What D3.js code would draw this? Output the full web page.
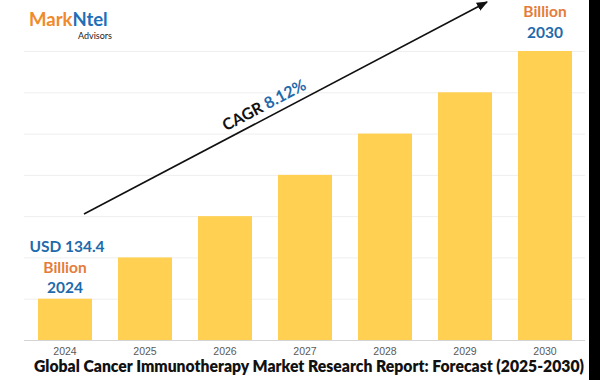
<!DOCTYPE html>
<html>
<head>
<meta charset="utf-8">
<script src="https://cdn.jsdelivr.net/npm/d3@7"></script>
<style>
  html, body { margin: 0; padding: 0; background: #fff; }
  svg { display: block; }
</style>
</head>
<body>
<svg id="chart" width="600" height="380"></svg>
<script>
// ---- data ----
const years = ["2024", "2025", "2026", "2027", "2028", "2029", "2030"];
const barHeights = [1, 2, 3, 4, 5, 6, 7];           // relative bar heights (gridline units)
const gridTicks = [0, 1, 2, 3, 4, 5, 6, 7];
const startLabel = ["USD 134.4", "Billion", "2024"];
const endLabel = ["Billion", "2030"];
const cagrLabel = ["CAGR ", "8.12%"];
const title = "Global Cancer Immunotherapy Market Research Report: Forecast (2025-2030)";

const svg = d3.select("#chart");
const W = 600, H = 380;
const font = "Lato, 'Open Sans', sans-serif";
const blue = "#1f6aab", orange = "#e47d3c", barColor = "#ffd052";

const x = d3.scaleBand().domain(years).range([25, 585]).paddingInner(0.325).paddingOuter(0.1625);
const y = d3.scaleLinear().domain([0, 7]).range([340, 51]);

// gridlines
svg.append("g").selectAll("line").data(gridTicks).join("line")
  .attr("x1", 24).attr("x2", 585)
  .attr("y1", d => y(d) + 0.5).attr("y2", d => y(d) + 0.5)
  .attr("stroke", d => d === 0 ? "#d4d4d4" : "#eeeeee").attr("stroke-width", 1);

// bars
svg.append("g").selectAll("rect").data(years).join("rect")
  .attr("x", d => x(d))
  .attr("width", x.bandwidth())
  .attr("y", (d, i) => y(barHeights[i]))
  .attr("height", (d, i) => y(0) - y(barHeights[i]))
  .attr("fill", barColor);

// x axis labels
const xAxis = d3.axisBottom(x).tickSize(0).tickPadding(0);
const gx = svg.append("g").attr("transform", "translate(0,348)").call(xAxis);
gx.select(".domain").remove();
gx.selectAll("text").attr("font-family", "'Liberation Sans', Arial, sans-serif")
  .attr("font-size", 10.5).attr("fill", "#595959").attr("dy", "0.71em");

// logo
const logo = svg.append("text").attr("x", 29).attr("y", 26)
  .attr("font-family", font).attr("font-weight", 700).attr("font-size", 18.5);
logo.append("tspan").text("Mark").attr("fill", "#f08a2a");
logo.append("tspan").text("Ntel").attr("fill", "#1e6fb8");
svg.append("text").attr("x", 112).attr("y", 39).attr("text-anchor", "end")
  .attr("font-family", font).attr("font-size", 9).attr("fill", "#222").text("Advisors");

// start label (2024)
const cx0 = x("2024") + x.bandwidth() / 2;
const sl = svg.append("g").attr("font-family", font).attr("font-weight", 700)
  .attr("font-size", 15.5).attr("text-anchor", "middle");
sl.append("text").attr("x", cx0 + 2).attr("y", 252).attr("fill", blue).text(startLabel[0]);
sl.append("text").attr("x", cx0).attr("y", 273).attr("fill", orange).text(startLabel[1]);
sl.append("text").attr("x", cx0).attr("y", 293).attr("fill", blue).text(startLabel[2]);

// end label (2030)
const cx6 = x("2030") + x.bandwidth() / 2;
const el = svg.append("g").attr("font-family", font).attr("font-weight", 700)
  .attr("font-size", 15.5).attr("text-anchor", "middle");
el.append("text").attr("x", cx6).attr("y", 17).attr("fill", orange).text(endLabel[0]);
el.append("text").attr("x", cx6).attr("y", 38).attr("fill", blue).text(endLabel[1]);

// CAGR arrow
const defs = svg.append("defs");
defs.append("marker").attr("id", "arrow").attr("viewBox", "0 0 10 10")
  .attr("refX", 9).attr("refY", 5).attr("markerWidth", 7).attr("markerHeight", 7)
  .attr("orient", "auto")
  .append("path").attr("d", "M0,1 L10,5 L0,9 Z").attr("fill", "#111");
const p0 = [84, 214], p1 = [487, 2];
svg.append("line").attr("x1", p0[0]).attr("y1", p0[1]).attr("x2", p1[0]).attr("y2", p1[1])
  .attr("stroke", "#111").attr("stroke-width", 1.6).attr("marker-end", "url(#arrow)");
const ang = Math.atan2(p1[1] - p0[1], p1[0] - p0[0]) * 180 / Math.PI;
const tx = 270, ty = p0[1] + (tx - p0[0]) * (p1[1] - p0[1]) / (p1[0] - p0[0]);
const off = 7;
const rad = ang * Math.PI / 180;
const ox = tx + off * Math.sin(rad), oy = ty - off * Math.cos(rad);
const ct = svg.append("text").attr("transform", `translate(${ox},${oy}) rotate(${ang})`)
  .attr("text-anchor", "middle").attr("font-family", font).attr("font-weight", 700).attr("font-size", 16);
ct.append("tspan").text(cagrLabel[0]).attr("fill", "#111");
ct.append("tspan").text(cagrLabel[1]).attr("fill", blue);

// title
svg.append("text").attr("x", 34).attr("y", 372)
  .attr("font-family", font).attr("font-weight", 800).attr("font-size", 16)
  .attr("fill", "#111").attr("textLength", 550).attr("lengthAdjust", "spacingAndGlyphs")
  .text(title);

// black strip at right edge
svg.append("rect").attr("x", 589).attr("y", 0).attr("width", W - 589).attr("height", H).attr("fill", "#000");
</script>
</body>
</html>
